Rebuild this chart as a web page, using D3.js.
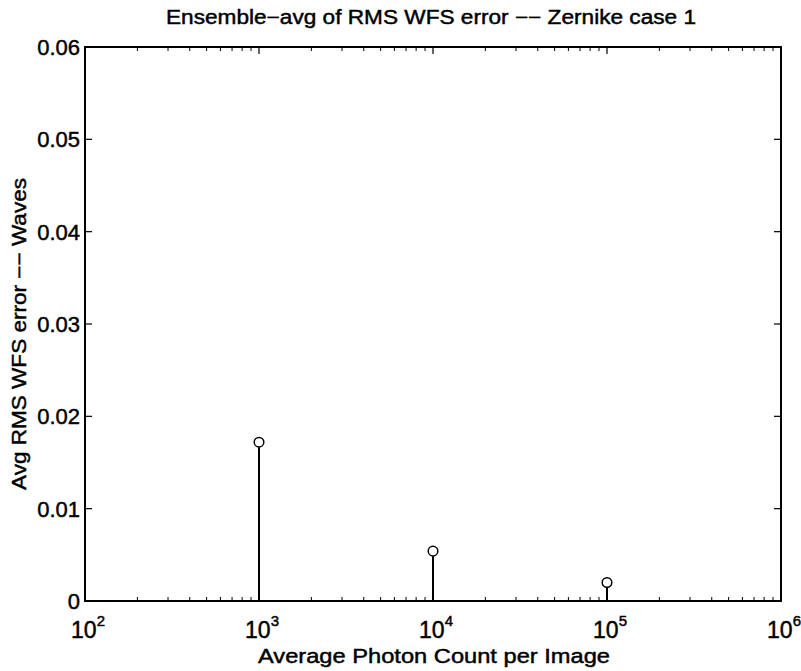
<!DOCTYPE html>
<html><head><meta charset="utf-8">
<script src="https://cdn.jsdelivr.net/npm/d3@7"></script>
<style>body{margin:0;background:#fff}svg{display:block}text{font-family:"Liberation Sans",Arial,Helvetica,sans-serif;fill:#000;stroke:#000;stroke-width:0.45px}</style>
</head><body>
<script>
const photonCounts = [1e3, 1e4, 1e5];
const rmsError = [0.0172, 0.0054, 0.0020];
const xTickExponents = [2, 3, 4, 5, 6];
const yTicks = [0, 0.01, 0.02, 0.03, 0.04, 0.05, 0.06];
const yTickLabels = ["0", "0.01", "0.02", "0.03", "0.04", "0.05", "0.06"];
const titleText = "Ensemble\u2212avg of RMS WFS error \u2212\u2212 Zernike case 1";
const xLabelText = "Average Photon Count per Image";
const yLabelText = "Avg RMS WFS error \u2212\u2212 Waves";

const W = 801, H = 671;
const m = {left: 85, right: 20, top: 47, bottom: 70};
const svg = d3.select("body").append("svg").attr("width", W).attr("height", H);
const x = d3.scaleLog().domain([1e2, 1e6]).range([m.left, W - m.right]);
const y = d3.scaleLinear().domain([0, 0.06]).range([H - m.bottom, m.top]);
const x0 = m.left, x1 = W - m.right, y0 = H - m.bottom, y1 = m.top;

const g = svg.append("g");
const minor = [];
for (let e = 2; e < 6; e++) for (let k = 2; k <= 9; k++) minor.push(k * Math.pow(10, e));
minor.forEach(v => {
  g.append("line").attr("x1", x(v)).attr("x2", x(v)).attr("y1", y0).attr("y2", y0 - 4).attr("stroke", "#000").attr("stroke-width", 1);
  g.append("line").attr("x1", x(v)).attr("x2", x(v)).attr("y1", y1).attr("y2", y1 + 4).attr("stroke", "#000").attr("stroke-width", 1);
});
xTickExponents.forEach(e => {
  const v = Math.pow(10, e);
  g.append("line").attr("x1", x(v)).attr("x2", x(v)).attr("y1", y0).attr("y2", y0 - 7).attr("stroke", "#000").attr("stroke-width", 1.2);
  g.append("line").attr("x1", x(v)).attr("x2", x(v)).attr("y1", y1).attr("y2", y1 + 7).attr("stroke", "#000").attr("stroke-width", 1.2);
  const t = g.append("text").attr("x", x(v) + 3).attr("y", y0 + 37).attr("text-anchor", "middle").attr("font-size", 23);
  t.append("tspan").text("10");
  t.append("tspan").attr("dy", -12).attr("font-size", 15).text(e);
});
yTicks.forEach((v, i) => {
  g.append("line").attr("x1", x0).attr("x2", x0 + 7).attr("y1", y(v)).attr("y2", y(v)).attr("stroke", "#000").attr("stroke-width", 1.2);
  g.append("line").attr("x1", x1).attr("x2", x1 - 7).attr("y1", y(v)).attr("y2", y(v)).attr("stroke", "#000").attr("stroke-width", 1.2);
  g.append("text").attr("x", x0 - 5).attr("y", y(v) + 8).attr("text-anchor", "end").attr("font-size", 22).text(yTickLabels[i]);
});
g.append("rect").attr("x", x0).attr("y", y1).attr("width", x1 - x0).attr("height", y0 - y1)
  .attr("fill", "none").attr("stroke", "#000").attr("stroke-width", 2);

photonCounts.forEach((c, i) => {
  g.append("line").attr("x1", x(c)).attr("x2", x(c)).attr("y1", y(0)).attr("y2", y(rmsError[i]) + 5)
    .attr("stroke", "#000").attr("stroke-width", 2);
  g.append("circle").attr("cx", x(c)).attr("cy", y(rmsError[i])).attr("r", 4.8)
    .attr("fill", "none").attr("stroke", "#000").attr("stroke-width", 1.5);
});

svg.append("text").attr("x", 431).attr("y", 24).attr("text-anchor", "middle").attr("font-size", 20)
  .attr("textLength", 530).attr("lengthAdjust", "spacingAndGlyphs").text(titleText);
svg.append("text").attr("x", 434).attr("y", 663).attr("text-anchor", "middle").attr("font-size", 20)
  .attr("textLength", 352).attr("lengthAdjust", "spacingAndGlyphs").text(xLabelText);
svg.append("text").attr("transform", `translate(26,334) rotate(-90)`).attr("text-anchor", "middle").attr("font-size", 20)
  .attr("textLength", 312).attr("lengthAdjust", "spacingAndGlyphs").text(yLabelText);
</script>
</body></html>
